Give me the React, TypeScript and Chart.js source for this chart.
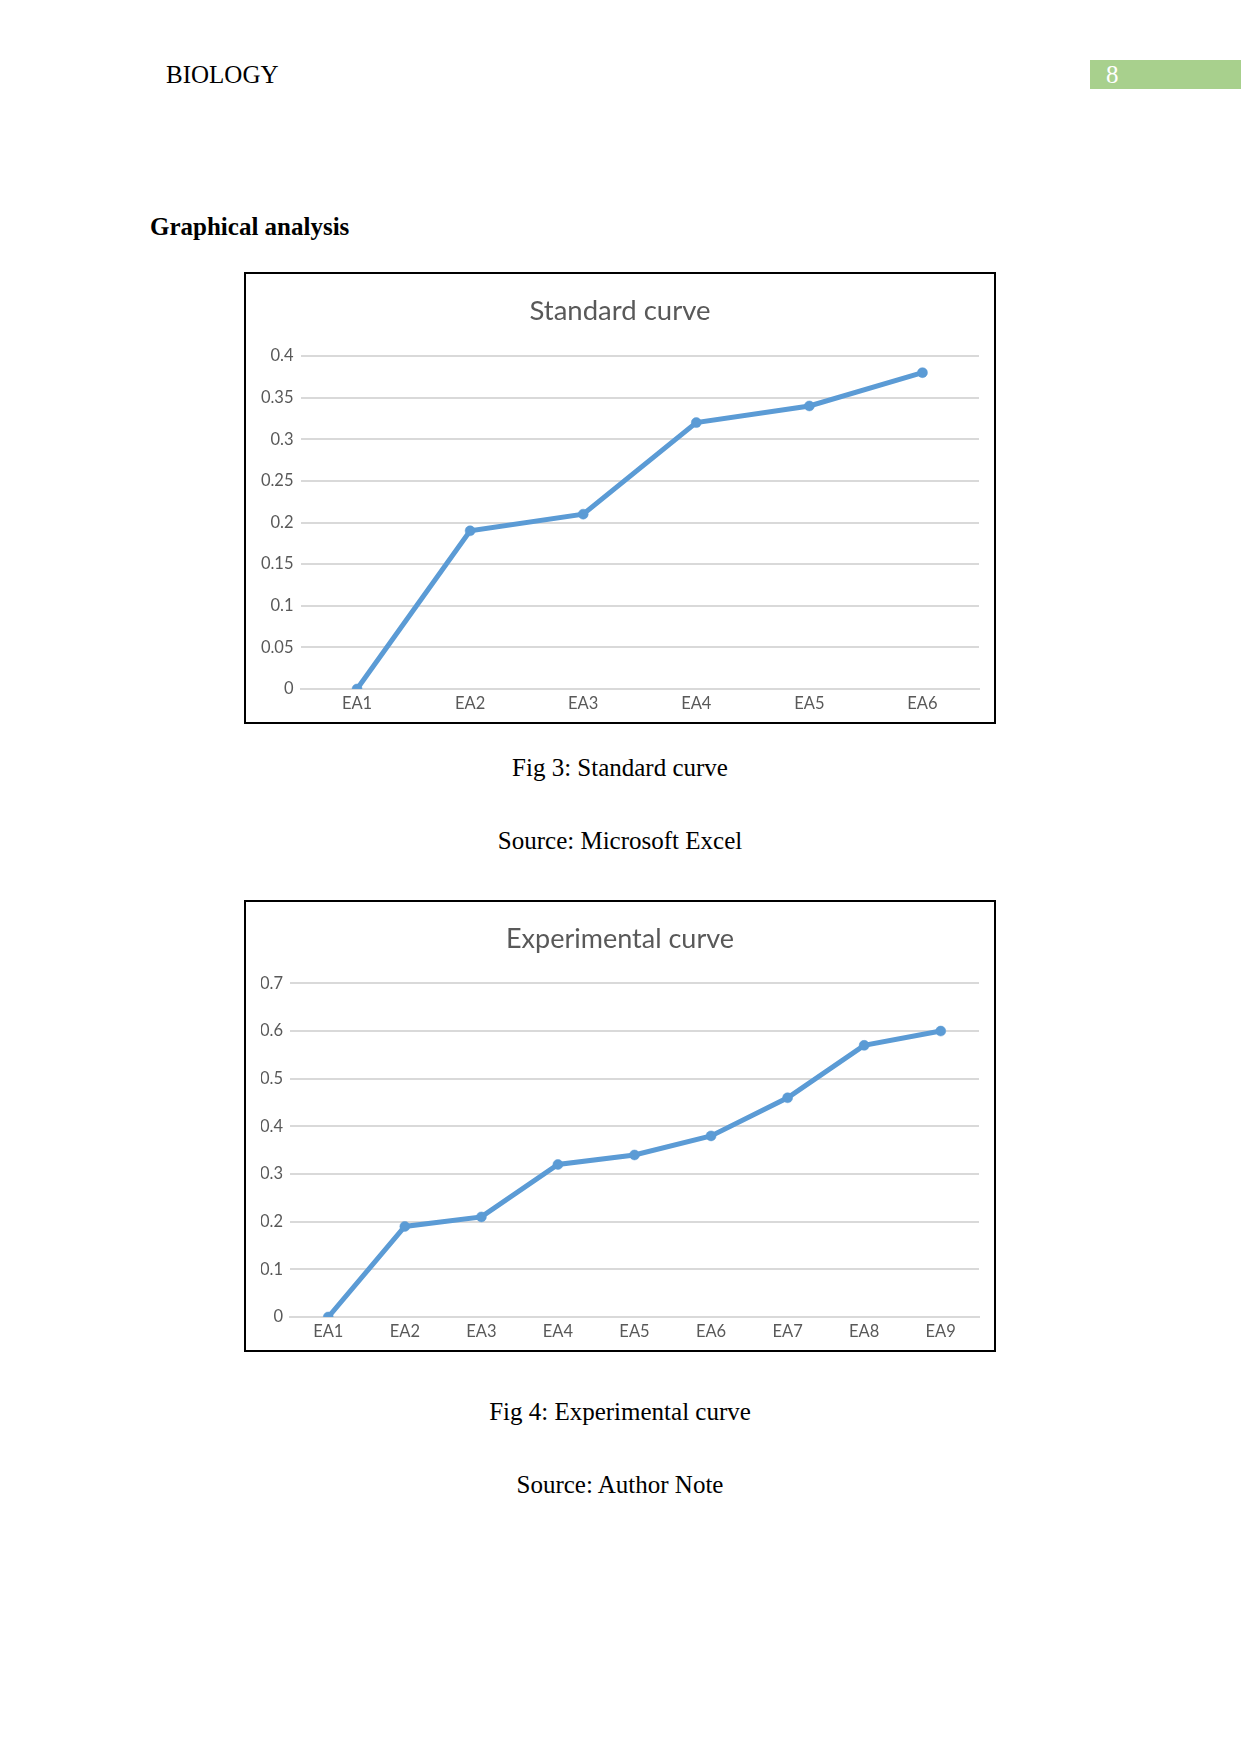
import React, { useEffect, useRef } from 'react';
import { Chart, registerables } from 'chart.js';

Chart.register(...registerables);

// ---- Data ----
const STD_CATEGORIES = ['EA1', 'EA2', 'EA3', 'EA4', 'EA5', 'EA6'];
const STD_VALUES = [0, 0.19, 0.21, 0.32, 0.34, 0.38];
const STD_Y_TICKS = [0, 0.05, 0.1, 0.15, 0.2, 0.25, 0.3, 0.35, 0.4];

const EXP_CATEGORIES = ['EA1', 'EA2', 'EA3', 'EA4', 'EA5', 'EA6', 'EA7', 'EA8', 'EA9'];
const EXP_VALUES = [0, 0.19, 0.21, 0.32, 0.34, 0.38, 0.46, 0.57, 0.6];
const EXP_Y_TICKS = [0, 0.1, 0.2, 0.3, 0.4, 0.5, 0.6, 0.7];

// ---- Styles ----
const BLUE = '#5B9BD5';
const GRID = '#D9D9D9';
const LABEL = '#595959';
const SERIF = '"Liberation Serif", "Times New Roman", serif';
const SIDE_PAD = 16;

type LineChartProps = {
  title: string;
  titleSize: number;
  categories: string[];
  values: number[];
  yTicks: number[];
  yAxisWidth: number;
  left: number;
  top: number;
};

function LineChart({ title, titleSize, categories, values, yTicks, yAxisWidth, left, top }: LineChartProps) {
  const ref = useRef<HTMLCanvasElement>(null);
  useEffect(() => {
    const chart = new Chart(ref.current as HTMLCanvasElement, {
      type: 'line',
      data: {
        labels: categories,
        datasets: [
          {
            data: values,
            borderColor: BLUE,
            backgroundColor: BLUE,
            borderWidth: 5,
            pointRadius: 5,
            pointBackgroundColor: BLUE,
            pointBorderColor: BLUE,
            pointBorderWidth: 0.5,
            tension: 0,
            fill: false,
          },
        ],
      },
      options: {
        responsive: false,
        animation: false,
        devicePixelRatio: 1,
        layout: { padding: { left: SIDE_PAD, right: SIDE_PAD, top: 0, bottom: 0 } },
        plugins: {
          legend: { display: false },
          tooltip: { enabled: false },
          title: {
            display: true,
            text: title,
            color: LABEL,
            font: { family: 'Lato', size: titleSize, weight: 'normal', lineHeight: 1.2 },
            padding: { top: 22, bottom: 28 },
          },
        },
        scales: {
          x: {
            offset: true,
            grid: { display: false, drawTicks: false },
            border: { display: true, color: GRID, width: 2 },
            ticks: {
              color: LABEL,
              font: { family: 'Lato', size: 16.5 },
              padding: 5,
              maxRotation: 0,
              autoSkip: false,
            },
            afterFit: (s: any) => {
              s.height = 34;
            },
          },
          y: {
            min: yTicks[0],
            max: yTicks[yTicks.length - 1],
            afterBuildTicks: (s: any) => {
              s.ticks = yTicks.map((v) => ({ value: v }));
            },
            grid: { color: GRID, lineWidth: 2, drawTicks: false },
            border: { display: false },
            ticks: {
              color: LABEL,
              font: { family: 'Lato', size: 16.5 },
              padding: 7,
              callback: (v: any) => String(v),
            },
            afterFit: (s: any) => {
              s.width = yAxisWidth - SIDE_PAD;
            },
          },
        },
      },
    } as any);
    return () => chart.destroy();
  }, []);

  return (
    <>
      <div
        style={{
          position: 'absolute',
          left: left - 1,
          top: top - 1,
          width: 752,
          height: 452,
          boxSizing: 'border-box',
          border: '2px solid #000',
        }}
      />
      <canvas
        ref={ref}
        width={750}
        height={450}
        style={{ position: 'absolute', left, top, width: 750, height: 450 }}
      />
    </>
  );
}

function Text({
  children,
  top,
  left,
  center,
  bold,
  color,
}: {
  children: React.ReactNode;
  top: number;
  left?: number;
  center?: boolean;
  bold?: boolean;
  color?: string;
}) {
  return (
    <div
      style={{
        position: 'absolute',
        top,
        left: center ? 0 : left,
        width: center ? 1240 : undefined,
        textAlign: center ? 'center' : 'left',
        fontFamily: SERIF,
        fontSize: 25,
        lineHeight: '25px',
        fontWeight: bold ? 'bold' : 'normal',
        color: color || '#000',
        whiteSpace: 'nowrap',
      }}
    >
      {children}
    </div>
  );
}

export default function App() {
  return (
    <div
      style={{
        position: 'absolute',
        left: 0,
        top: 0,
        width: 1241,
        height: 1754,
        background: '#fff',
        overflow: 'hidden',
      }}
    >
      <Text top={62} left={166}>BIOLOGY</Text>
      <div
        style={{
          position: 'absolute',
          left: 1090,
          top: 60,
          width: 151,
          height: 29,
          background: '#A8D08D',
        }}
      />
      <Text top={62} left={1106} color="#fff">8</Text>

      <Text top={214} left={150} bold>Graphical analysis</Text>

      <LineChart
        title="Standard curve"
        titleSize={27.5}
        categories={STD_CATEGORIES}
        values={STD_VALUES}
        yTicks={STD_Y_TICKS}
        yAxisWidth={55.5}
        left={245}
        top={273}
      />
      <Text top={755} center>Fig 3: Standard curve</Text>
      <Text top={828} center>Source: Microsoft Excel</Text>

      <LineChart
        title="Experimental curve"
        titleSize={27}
        categories={EXP_CATEGORIES}
        values={EXP_VALUES}
        yTicks={EXP_Y_TICKS}
        yAxisWidth={45}
        left={245}
        top={901}
      />
      <Text top={1399} center>Fig 4: Experimental curve</Text>
      <Text top={1472} center>Source: Author Note</Text>
    </div>
  );
}
